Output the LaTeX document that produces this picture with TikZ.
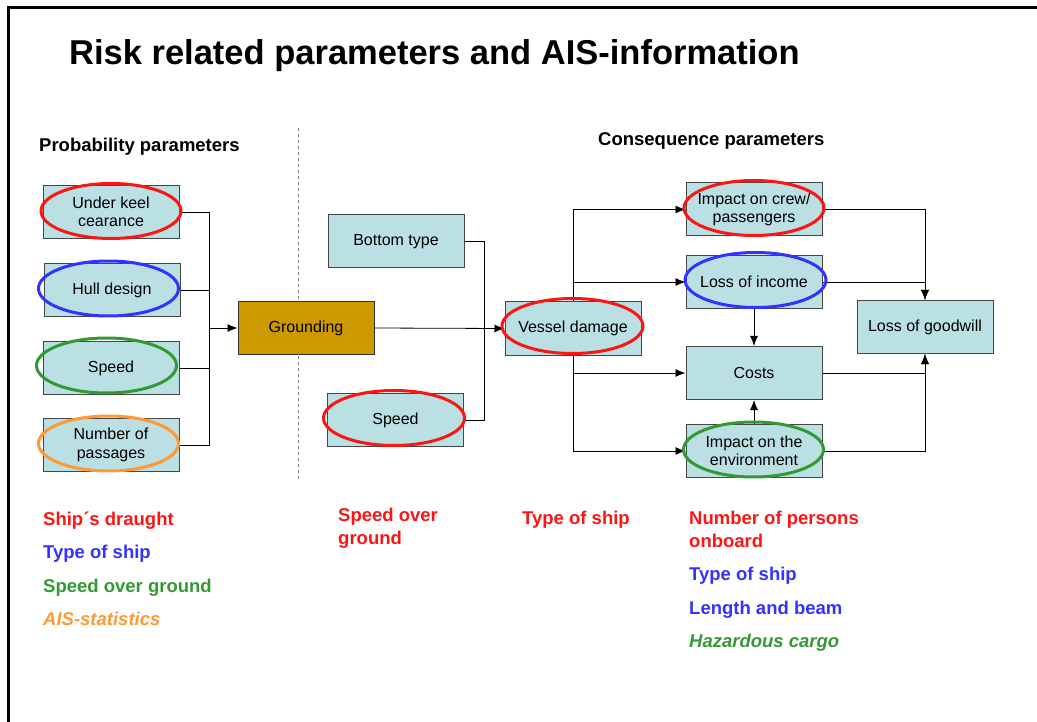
\documentclass[tikz,border=0pt]{standalone}
\usepackage{fontspec}
\setmainfont{Liberation Sans}
\usetikzlibrary{arrows.meta}
\usetikzlibrary{positioning}
\usepackage{xcolor}
\definecolor{boxcyan}{RGB}{187,224,227}
\definecolor{boxedge}{RGB}{70,70,70}
\definecolor{groundgold}{RGB}{204,153,0}
\definecolor{aisred}{RGB}{255,20,20}
\definecolor{aisblue}{RGB}{51,51,255}
\definecolor{aisgreen}{RGB}{51,153,51}
\definecolor{aisorange}{RGB}{255,153,51}

\begin{document}
\begin{tikzpicture}[x=1pt, y=-1pt, >={Latex[length=10pt,width=8pt]},
    every node/.style={font=\fontsize{16}{18.5}\selectfont},
    box/.style={draw=boxedge, fill=boxcyan, line width=1pt, minimum width=136pt,
                minimum height=53pt, align=center, inner sep=0pt},
    wire/.style={line width=0.8pt},
    ring/.style={line width=3pt},
    note/.style={font=\bfseries\fontsize{18.5}{23}\selectfont, anchor=base west,
                 align=left, inner sep=0pt}]
\useasboundingbox (0,0) rectangle (1037,722);

% frame and title
\draw[line width=3pt] (8,722) -- (8,8) -- (1037,8);
\node[anchor=base west, inner sep=0pt, font=\bfseries\fontsize{34.5}{40}\selectfont]
    (title) at (69,65) {Risk related parameters and AIS-information};
\node[note] (probhead) at (39,152) {Probability parameters};
\node[note] (conshead) at (598,146) {Consequence parameters};
\draw[dashed, gray, line width=0.8pt] (298,128) -- (298,481);

% probability side
\node[box] (keel) at (111,212) {Under keel\\cearance};
\node[box] (hull) at (112,290.5) {Hull design};
\node[box] (speedA) at (111,368) {Speed};
\node[box] (passages) at (111,445) {Number of\\passages};
\node[box, fill=groundgold, draw=black!80] (grounding) at (306,328) {Grounding};
\coordinate (leftbus) at (209,328);

% consequence side
\node[box] (bottomtype) at (396,241.5) {Bottom type};
\node[box] (speedB) at (395.5,420) {Speed};
\node[box] (vessel) at (573,328.5) {Vessel damage};
\coordinate (midbus) at (484.5,328);
\node[box] (crew) at (754,209.5) {Impact on crew/\\passengers};
\node[box] (income) at (754,282) {Loss of income};
\node[box] (costs) at (754,373) {Costs};
\node[box] (env) at (754,451) {Impact on the\\environment};
\node[box] (goodwill) at (925,327) {Loss of goodwill};

% connectors
\draw[wire] (keel.east) -| (leftbus);
\draw[wire] (hull.east) -| (leftbus);
\draw[wire] (speedA.east) -| (leftbus);
\draw[wire] (passages.east) -| (leftbus);
\draw[wire,->] (leftbus) -- (grounding.west);
\draw[wire] (bottomtype.east) -| (midbus);
\draw[wire] (speedB.east) -| (midbus);
\draw[wire,->] (grounding.east) -- (vessel.west);
\draw[wire,->] (vessel.north) |- (crew.west);
\draw[wire,->] (vessel.north) |- (income.west);
\draw[wire,->] (vessel.south) |- (costs.west);
\draw[wire,->] (vessel.south) |- (env.west);
\draw[wire,->] (income.south) -- (costs.north);
\draw[wire,->] (env.north) -- (costs.south);
\draw[wire,->] (crew.east) -| (goodwill.north);
\draw[wire,->] (income.east) -| (goodwill.north);
\draw[wire,->] (costs.east) -| (goodwill.south);
\draw[wire,->] (env.east) -| (goodwill.south);

% AIS marks
\draw[ring, aisred] (111,211) ellipse [x radius=70, y radius=27.5];
\draw[ring, aisblue] (108.5,288.5) ellipse [x radius=70, y radius=27.5];
\draw[ring, aisgreen] (106.5,365.5) ellipse [x radius=70, y radius=27.5];
\draw[ring, aisorange] (108.5,443.5) ellipse [x radius=70, y radius=27.5];
\draw[ring, aisred] (394,418) ellipse [x radius=70.5, y radius=27.5];
\draw[ring, aisred] (572.5,326) ellipse [x radius=70.5, y radius=27.5];
\draw[ring, aisred] (754,208) ellipse [x radius=70, y radius=27.5];
\draw[ring, aisblue] (755.5,280) ellipse [x radius=70.5, y radius=27.5];
\draw[ring, aisgreen] (753.5,449.5) ellipse [x radius=70, y radius=27.5];

% AIS information
\node[note, aisred] (draught) at (43,525) {Ship´s draught};
\node[note, aisblue] (typeA) at (43,558) {Type of ship};
\node[note, aisgreen] (sog) at (43,592) {Speed over ground};
\node[note, aisorange, font=\bfseries\itshape\fontsize{18.5}{23}\selectfont] (stats) at (43,625) {AIS-statistics};
\node[note, aisred] (sogB) at (338,544) {Speed over\\ground};
\node[note, aisred] (typeB) at (522,524) {Type of ship};
\node[note, aisred] (persons) at (689,547) {Number of persons\\onboard};
\node[note, aisblue] (typeC) at (689,580) {Type of ship};
\node[note, aisblue] (beam) at (689,614) {Length and beam};
\node[note, aisgreen, font=\bfseries\itshape\fontsize{18.5}{23}\selectfont] (cargo) at (689,647) {Hazardous cargo};
\end{tikzpicture}
\end{document}
